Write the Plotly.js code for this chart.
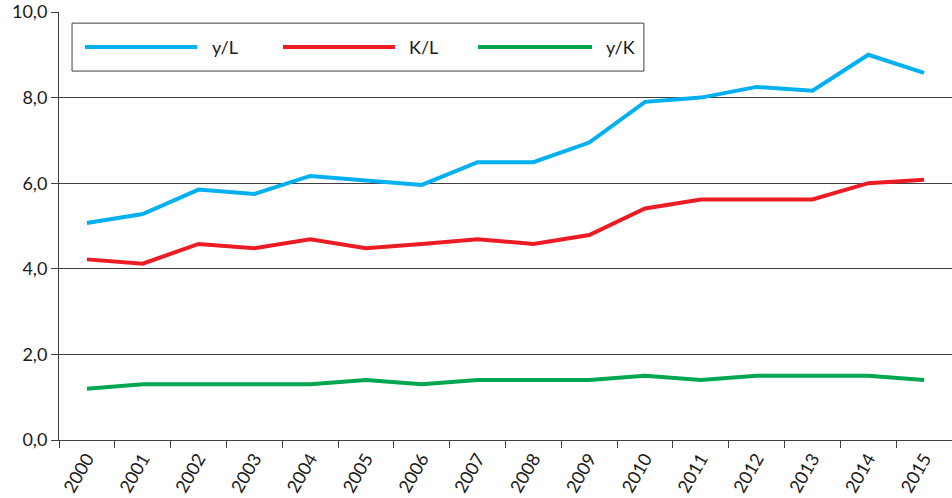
<!DOCTYPE html>
<html>
<head>
<meta charset="utf-8">
<script src="https://cdn.plot.ly/plotly-3.0.1.min.js"></script>
<style>html,body{margin:0;padding:0;background:#fff;}#chart{width:952px;height:498px;}</style>
</head>
<body>
<div id="chart"></div>
<script>
const years = ["2000","2001","2002","2003","2004","2005","2006","2007","2008","2009","2010","2011","2012","2013","2014","2015"];
const yL = [5.07,5.28,5.85,5.75,6.17,6.06,5.96,6.49,6.49,6.95,7.9,8.0,8.25,8.16,9.0,8.58];
const KL = [4.22,4.12,4.58,4.48,4.69,4.48,4.58,4.69,4.58,4.79,5.41,5.62,5.62,5.62,6.0,6.08];
const yK = [1.2,1.3,1.3,1.3,1.3,1.4,1.3,1.4,1.4,1.4,1.5,1.4,1.5,1.5,1.5,1.4];
const seriesNames = ["y/L","K/L","y/K"];
const colors = ["#00B0F0","#ED1C24","#00A650"];
const tickVals = [0,2,4,6,8,10];

const seriesData = [yL, KL, yK];
const traces = seriesData.map((v,i)=>({
  x: years, y: v, type:'scatter', mode:'lines', name: seriesNames[i],
  line:{color:colors[i], width:4}, showlegend:false
}));

// custom legend (long line samples as in reference)
const legX = [[0.0291,0.1545],[0.2508,0.3763],[0.4692,0.5969]];
const legTextX = [0.169,0.3897,0.6103];
const legY = 0.918;
const shapes = [{type:'rect', xref:'paper', yref:'paper', x0:0.0146, x1:0.655, y0:0.862, y1:0.974,
  line:{color:'#404040', width:1}, fillcolor:'rgba(255,255,255,1)', layer:'above'}];
const annotations = [];
seriesNames.forEach((n,i)=>{
  shapes.push({type:'line', xref:'paper', yref:'paper', x0:legX[i][0], x1:legX[i][1], y0:legY, y1:legY,
    line:{color:colors[i], width:4}, layer:'above'});
  annotations.push({xref:'paper', yref:'paper', x:legTextX[i], y:legY, text:n, showarrow:false,
    xanchor:'left', yanchor:'middle', font:{family:'Lato, "Open Sans", sans-serif', size:18, color:'#1a1a1a'}});
});

const layout = {
  width:952, height:498,
  margin:{l:59, r:0, t:12, b:58},
  paper_bgcolor:'#fff', plot_bgcolor:'#fff',
  separators:', ',
  font:{family:'Lato, "Open Sans", sans-serif', size:18, color:'#1a1a1a'},
  xaxis:{type:'category', range:[-0.5, years.length-0.5], tickson:'boundaries', ticks:'outside', ticklen:7, tickcolor:'#404040',
    showline:true, linecolor:'#404040', linewidth:1, showgrid:false, tickangle:-60,
    tickfont:{size:18}, zeroline:false, fixedrange:true},
  yaxis:{range:[0,10], tickvals:tickVals, tickformat:'.1f', ticks:'outside', ticklen:7, tickcolor:'#404040',
    showline:true, linecolor:'#404040', linewidth:1, showgrid:true, gridcolor:'#404040', gridwidth:1,
    zeroline:false, tickfont:{size:18}, fixedrange:true},
  shapes: shapes,
  annotations: annotations,
  showlegend:false
};
Plotly.newPlot('chart', traces, layout, {displayModeBar:false, staticPlot:true});
</script>
</body>
</html>
